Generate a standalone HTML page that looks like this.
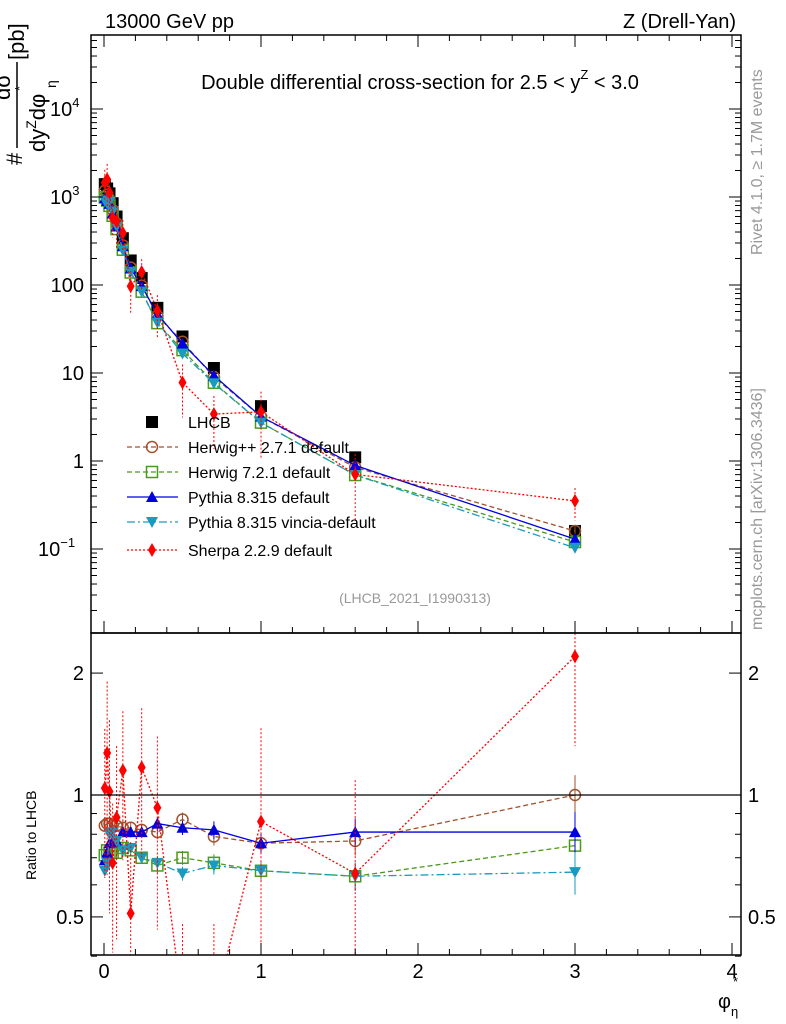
<!DOCTYPE html>
<html><head><meta charset="utf-8"><style>
body{margin:0;background:#fff;overflow:hidden;}
svg text{font-family:"Liberation Sans",sans-serif;}
</style></head><body>
<svg id="chart" width="786" height="1024" xmlns="http://www.w3.org/2000/svg" style="display:block">
<rect x="0" y="0" width="786" height="1024" fill="#fff"/>
<g id="marks"></g>
<g id="axes"></g>
<text x="105" y="28" font-size="20">13000 GeV pp</text>
<text x="736" y="28" font-size="20" text-anchor="end">Z (Drell-Yan)</text>
<text x="420" y="89" font-size="20" text-anchor="middle">Double differential cross-section for 2.5 &lt; y<tspan dy="-10" font-size="13">Z</tspan><tspan dy="10"> &lt; 3.0</tspan></text>
<text x="415" y="603" font-size="14" fill="#999" text-anchor="middle">(LHCB_2021_I1990313)</text>
<text transform="translate(762,255) rotate(-90)" font-size="16" fill="#999">Rivet 4.1.0, ≥ 1.7M events</text>
<text transform="translate(762,630) rotate(-90)" font-size="16" fill="#999">mcplots.cern.ch [arXiv:1306.3436]</text>
<g>
<text transform="translate(22,165) rotate(-90)" font-size="22">#</text>
<text transform="translate(10,100) rotate(-90)" font-size="22">dσ</text>
<line x1="17" y1="148" x2="17" y2="62" stroke="#000" stroke-width="1.5"/>
<text transform="translate(45,152) rotate(-90)" font-size="22">dy<tspan dy="-9" font-size="14">Z</tspan><tspan dy="9">dφ</tspan></text>
<text transform="translate(56,88) rotate(-90)" font-size="14">η</text>
<text transform="translate(24,91) rotate(-90)" font-size="13">*</text>
<text transform="translate(24,60) rotate(-90)" font-size="22">[pb]</text>
</g>
<text transform="translate(36,880) rotate(-90)" font-size="14">Ratio to LHCB</text>
<text x="718" y="1008" font-size="20">φ<tspan dy="8" font-size="13">η</tspan></text>
<text x="733" y="986" font-size="13">*</text>
<g id="legend"></g>
</svg>
<script>
const xs=[0.005,0.02,0.035,0.055,0.08,0.12,0.17,0.24,0.34,0.5,0.7,1.0,1.6,3.0];
const lhcb=[1400,1250,1100,850,600,340,190,120,55,26,11.4,4.2,1.1,0.16];
const lhcbErr=[0.05,0.05,0.05,0.05,0.05,0.05,0.05,0.05,0.05,0.05,0.05,0.06,0.07,0.08];
const herwigpp=[0.84,0.85,0.85,0.84,0.84,0.83,0.83,0.82,0.81,0.87,0.79,0.76,0.77,1.0];
const herwig7=[0.71,0.73,0.72,0.72,0.72,0.74,0.73,0.70,0.67,0.70,0.68,0.65,0.63,0.75];
const pythia=[0.69,0.72,0.76,0.765,0.77,0.81,0.81,0.81,0.85,0.83,0.82,0.76,0.81,0.81];
const vincia=[0.65,0.68,0.80,0.81,0.77,0.73,0.74,0.70,0.68,0.64,0.67,0.65,0.63,0.645];
const sherpaVals=[1.04,1.27,1.02,0.68,0.88,1.15,0.51,1.17,0.93,0.30,0.30,0.86,0.64,2.2];
const sherpaErr=[0.4,0.5,0.5,0.4,0.5,0.4,0.5,0.4,0.5,0.6,0.6,0.7,0.7,0.4];
const modelErr=[0.03,0.03,0.03,0.03,0.03,0.03,0.03,0.03,0.04,0.04,0.05,0.06,0.08,0.12];
const xTicks=[0,1,2,3,4];

const NS="http://www.w3.org/2000/svg";
const L=91,R=741,T=35,MB=633,RB=955;
function X(v){return 104+157*v;}
function YM(v){return 461-88*Math.log10(v);}
function YR(v){return 795-405*Math.log10(v);}
function el(tag,attrs,parent){const e=document.createElementNS(NS,tag);for(const k in attrs)e.setAttribute(k,attrs[k]);parent.appendChild(e);return e;}
const marks=document.getElementById('marks');
const axes=document.getElementById('axes');
const clipMain=el('clipPath',{id:'cm'},marks);el('rect',{x:L,y:T,width:R-L,height:MB-T},clipMain);
const clipR=el('clipPath',{id:'cr'},marks);el('rect',{x:L,y:MB,width:R-L,height:RB-MB},clipR);
const gM=el('g',{'clip-path':'url(#cm)'},marks);
const gR=el('g',{'clip-path':'url(#cr)'},marks);

function marker(type,cx,cy,color,g){
 let m;
 if(type==='sq')m=el('rect',{x:cx-6,y:cy-6,width:12,height:12,fill:'#000'},g);
 else if(type==='circ')m=el('circle',{cx:cx,cy:cy,r:5.5,fill:'none',stroke:color,'stroke-width':1.5},g);
 else if(type==='osq')m=el('rect',{x:cx-5.5,y:cy-5.5,width:11,height:11,fill:'none',stroke:color,'stroke-width':1.5},g);
 else if(type==='tri')m=el('polygon',{points:`${cx},${cy-6} ${cx-6},${cy+5} ${cx+6},${cy+5}`,fill:color},g);
 else if(type==='itri')m=el('polygon',{points:`${cx},${cy+6} ${cx-6},${cy-5} ${cx+6},${cy-5}`,fill:color},g);
 else m=el('polygon',{points:`${cx},${cy-7} ${cx-4},${cy} ${cx},${cy+7} ${cx+4},${cy}`,fill:color},g);
 return m;
}
const series=[
 {name:'Herwig++ 2.7.1 default',r:herwigpp,c:'#a0522d',t:'circ',d:'5,3',e:modelErr},
 {name:'Herwig 7.2.1 default',r:herwig7,c:'#4a9a1a',t:'osq',d:'5,3',e:modelErr},
 {name:'Pythia 8.315 default',r:pythia,c:'#0000e0',t:'tri',d:'',e:modelErr},
 {name:'Pythia 8.315 vincia-default',r:vincia,c:'#1a9ac0',t:'itri',d:'8,3,2,3',e:modelErr},
 {name:'Sherpa 2.2.9 default',r:sherpaVals,c:'#ff0000',t:'dia',d:'2,2',e:sherpaErr}
];
xs.forEach((x,i)=>{
 const v=lhcb[i];
 el('line',{x1:X(x),x2:X(x),y1:YM(v*(1+lhcbErr[i])),y2:YM(v*(1-lhcbErr[i])),stroke:'#000'},gM);
 const m=marker('sq',X(x),YM(v),'#000',gM);
 
 
});
series.forEach((s,si)=>{
 const ptsM=xs.map((x,i)=>X(x)+','+YM(lhcb[i]*s.r[i])).join(' ');
 const pl=el('polyline',{points:ptsM,fill:'none',stroke:s.c,'stroke-width':1.3,'stroke-dasharray':s.d},gM);
 
 
 const ptsR=xs.map((x,i)=>X(x)+','+YR(s.r[i])).join(' ');
 const pr=el('polyline',{points:ptsR,fill:'none',stroke:s.c,'stroke-width':1.3,'stroke-dasharray':s.d},gR);
 
 
 xs.forEach((x,i)=>{
  const v=lhcb[i]*s.r[i],e=s.e[i];
  el('line',{x1:X(x),x2:X(x),y1:YM(v*(1+e)),y2:YM(Math.max(v*(1-e),1e-4)),stroke:s.c,'stroke-dasharray':si==4?'2,2':''},gM);
  el('line',{x1:X(x),x2:X(x),y1:YR(s.r[i]*(1+e)),y2:YR(Math.max(s.r[i]*(1-e),0.01)),stroke:s.c,'stroke-dasharray':si==4?'2,2':''},gR);
  const m=marker(s.t,X(x),YM(v),s.c,gM);
  
  
  const m2=marker(s.t,X(x),YR(s.r[i]),s.c,gR);
  
  
 });
});
el('line',{x1:L,x2:R,y1:YR(1),y2:YR(1),stroke:'#000','stroke-width':1.3},gR);
el('rect',{x:L,y:T,width:R-L,height:MB-T,fill:'none',stroke:'#000','stroke-width':1.5},axes);
el('rect',{x:L,y:MB,width:R-L,height:RB-MB,fill:'none',stroke:'#000','stroke-width':1.5},axes);
for(let k=0;k<=20;k++){
 const v=k*0.2, big=k%5==0, len=big?12:6, x=X(v);
 [[MB,1],[T,-1],[RB,1]].forEach(([y,s])=>{
  el('line',{x1:x,x2:x,y1:y,y2:y-len*s,stroke:'#000'},axes);
 });
}
xTicks.forEach(v=>{const t=el('text',{x:X(v),y:978,'font-size':20,'text-anchor':'middle'},axes);t.textContent=v;
 });
for(let d=-2;d<=5;d++){for(let k=1;k<=9;k++){const v=k*Math.pow(10,d),y=YM(v);if(y<T||y>MB)continue;const len=k==1?12:6;
 el('line',{x1:L,x2:L+len,y1:y,y2:y,stroke:'#000'},axes);el('line',{x1:R,x2:R-len,y1:y,y2:y,stroke:'#000'},axes);}}
const yl=[[4,'10','4',50],[3,'10','3',50],[2,'100','',84],[1,'10','',84],[0,'1','',84],[-1,'10','−1',38]];
yl.forEach(([p,b,s,x])=>{const t=el('text',{x:x,y:YM(Math.pow(10,p))+7,'font-size':20,'text-anchor':s?'start':'end'},axes);
 t.textContent=b; if(s){const ts=el('tspan',{dy:-9,'font-size':13},t);ts.textContent=s;}
 });
[0.4,0.5,0.6,0.7,0.8,0.9,1,2].forEach(v=>{const y=YR(v);const len=(v==0.5||v==1||v==2)?12:6;
 el('line',{x1:L,x2:L+len,y1:y,y2:y,stroke:'#000'},axes);el('line',{x1:R,x2:R-len,y1:y,y2:y,stroke:'#000'},axes);});
[[2,'2'],[1,'1'],[0.5,'0.5']].forEach(([v,s])=>{
 const t=el('text',{x:84,y:YR(v)+7,'font-size':20,'text-anchor':'end'},axes);t.textContent=s;
 
 const t2=el('text',{x:748,y:YR(v)+7,'font-size':20},axes);t2.textContent=s;
 });
const lg=document.getElementById('legend');
const ly=[422,447,472,497,522,550];
const le0=el('g',{},lg);
marker('sq',152,ly[0],'#000',le0);
const t0=el('text',{x:188,y:ly[0]+6,'font-size':16},le0);t0.textContent='LHCB';
series.forEach((s,i)=>{const g=el('g',{},lg);
 
 const y=ly[i+1];
 el('line',{x1:127,x2:178,y1:y,y2:y,stroke:s.c,'stroke-width':1.3,'stroke-dasharray':s.d},g);
 marker(s.t,152,y,s.c,g);
 const t=el('text',{x:188,y:y+6,'font-size':16},g);t.textContent=s.name;});
</script>
</body></html>
